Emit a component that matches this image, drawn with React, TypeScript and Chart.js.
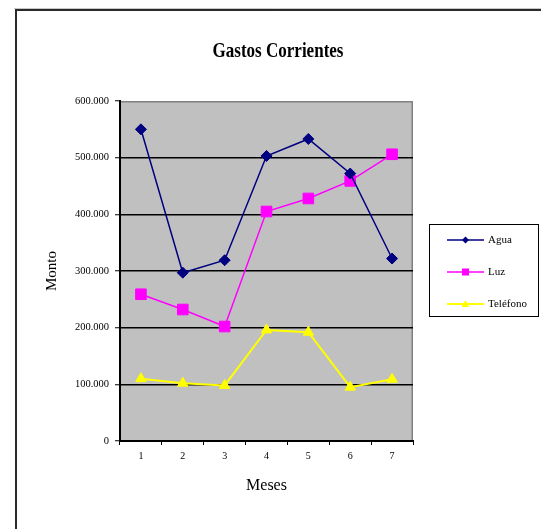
import React, { useEffect, useRef } from 'react';
import { Chart, registerables } from 'chart.js';

Chart.register(...registerables);

const categories = ['1', '2', '3', '4', '5', '6', '7'];
const agua = [550000, 297000, 319000, 503000, 533000, 472000, 322000];
const luz = [259000, 232000, 202000, 405000, 428000, 459000, 506000];
const telefono = [110000, 102000, 98000, 196000, 192000, 95000, 109000];
const seriesNames = ['Agua', 'Luz', 'Teléfono'];
const chartTitle = 'Gastos Corrientes';
const xTitle = 'Meses';
const yTitle = 'Monto';
const yMin = 0;
const yMax = 600000;
const yStep = 100000;

const SERIF = "'Liberation Serif', 'Times New Roman', serif";

function fmt(v: number): string {
  return Math.round(v).toString().replace(/\B(?=(\d{3})+(?!\d))/g, '.');
}

function drawMarker(ctx: CanvasRenderingContext2D, style: string, x: number, y: number, r: number, color: string) {
  ctx.save();
  ctx.fillStyle = color;
  ctx.strokeStyle = color;
  ctx.beginPath();
  if (style === 'rectRot') {
    ctx.moveTo(x, y - r);
    ctx.lineTo(x + r, y);
    ctx.lineTo(x, y + r);
    ctx.lineTo(x - r, y);
  } else if (style === 'rect') {
    ctx.rect(x - r, y - r, 2 * r, 2 * r);
  } else {
    ctx.moveTo(x, y - r);
    ctx.lineTo(x + r * 0.95, y + r * 0.75);
    ctx.lineTo(x - r * 0.95, y + r * 0.75);
  }
  ctx.closePath();
  ctx.fill();
  ctx.restore();
}

const framePlugin = {
  id: 'framePlugin',
  beforeDraw(chart: any) {
    const { ctx, chartArea } = chart;
    ctx.save();
    // outer frame
    ctx.strokeStyle = '#c8c8c8';
    ctx.lineWidth = 1;
    ctx.beginPath();
    ctx.moveTo(14, 8.5);
    ctx.lineTo(541, 8.5);
    ctx.stroke();
    ctx.strokeStyle = '#2a2a2a';
    ctx.lineWidth = 2;
    ctx.beginPath();
    ctx.moveTo(16, 540);
    ctx.lineTo(16, 10);
    ctx.lineTo(541, 10);
    ctx.stroke();
    // plot background
    ctx.fillStyle = '#c0c0c0';
    ctx.fillRect(chartArea.left, chartArea.top, chartArea.right - chartArea.left, chartArea.bottom - chartArea.top);
    ctx.strokeStyle = '#808080';
    ctx.lineWidth = 1.5;
    ctx.beginPath();
    ctx.moveTo(chartArea.left, chartArea.top + 0.75);
    ctx.lineTo(chartArea.right - 0.75, chartArea.top + 0.75);
    ctx.lineTo(chartArea.right - 0.75, chartArea.bottom);
    ctx.stroke();
    // title
    ctx.font = 'bold 21px ' + SERIF;
    ctx.fillStyle = '#000';
    ctx.textAlign = 'center';
    ctx.textBaseline = 'alphabetic';
    const w = ctx.measureText(chartTitle).width;
    const sx = 131 / w;
    ctx.translate(278, 57);
    ctx.scale(sx, 1);
    ctx.fillText(chartTitle, 0, 0);
    ctx.restore();
  },
  afterDraw(chart: any) {
    const { ctx } = chart;
    ctx.save();
    const bx = 429.5, by = 224.5, bw = 109, bh = 92;
    ctx.fillStyle = '#ffffff';
    ctx.fillRect(bx, by, bw, bh);
    ctx.strokeStyle = '#000';
    ctx.lineWidth = 1;
    ctx.strokeRect(bx, by, bw, bh);
    const ys = [240, 272, 304];
    const markerSizes = [3.5, 3.5, 4];
    chart.data.datasets.forEach((ds: any, i: number) => {
      const y = ys[i];
      ctx.strokeStyle = ds.borderColor;
      ctx.lineWidth = ds.borderWidth;
      ctx.beginPath();
      ctx.moveTo(447, y);
      ctx.lineTo(484, y);
      ctx.stroke();
      drawMarker(ctx, ds.pointStyle, 465.5, y, markerSizes[i], ds.pointBackgroundColor);
      ctx.fillStyle = '#000';
      ctx.font = '11px ' + SERIF;
      ctx.textAlign = 'left';
      ctx.textBaseline = 'middle';
      ctx.fillText(ds.label, 488, y + 0.5);
    });
    ctx.restore();
  },
};

export default function App() {
  const ref = useRef<HTMLCanvasElement>(null);
  useEffect(() => {
    if (!ref.current) return;
    const chart = new Chart(ref.current, {
      type: 'line',
      data: {
        labels: categories,
        datasets: [
          {
            label: seriesNames[0],
            data: agua,
            borderColor: '#000080',
            backgroundColor: '#000080',
            pointBackgroundColor: '#000080',
            pointBorderColor: '#000080',
            borderWidth: 1.5,
            pointStyle: 'rectRot',
            pointRadius: 5.5,
            pointBorderWidth: 1,
            tension: 0,
          },
          {
            label: seriesNames[1],
            data: luz,
            borderColor: '#ff00ff',
            backgroundColor: '#ff00ff',
            pointBackgroundColor: '#ff00ff',
            pointBorderColor: '#ff00ff',
            borderWidth: 1.5,
            pointStyle: 'rect',
            pointRadius: 7.5,
            pointBorderWidth: 1,
            tension: 0,
          },
          {
            label: seriesNames[2],
            data: telefono,
            borderColor: '#ffff00',
            backgroundColor: '#ffff00',
            pointBackgroundColor: '#ffff00',
            pointBorderColor: '#ffff00',
            borderWidth: 2,
            pointStyle: 'triangle',
            pointRadius: 6,
            pointBorderWidth: 1,
            tension: 0,
          },
        ],
      } as any,
      options: {
        animation: false,
        responsive: false,
        maintainAspectRatio: false,
        layout: { padding: { top: 101, right: 128, left: 40, bottom: 28 } },
        plugins: {
          legend: { display: false },
          title: { display: false },
          tooltip: { enabled: false },
        },
        scales: {
          x: {
            type: 'category',
            offset: true,
            afterFit: (s: any) => { s.height = 60; },
            grid: {
              offset: true,
              drawOnChartArea: false,
              drawTicks: true,
              tickLength: 4,
              tickColor: '#000',
              tickWidth: 1,
              color: '#000',
            },
            border: { display: true, color: '#000', width: 2 },
            ticks: {
              color: '#000',
              font: { family: SERIF, size: 10 },
              padding: 5,
              maxRotation: 0,
            },
            title: {
              display: true,
              text: xTitle,
              color: '#000',
              font: { family: SERIF, size: 16 },
              padding: { top: 0, bottom: 6 },
            },
          },
          y: {
            min: yMin,
            max: yMax,
            afterFit: (s: any) => { s.width = 80; },
            grid: {
              drawTicks: true,
              tickLength: 5,
              tickColor: '#000',
              tickWidth: 1,
              lineWidth: 1.5,
              color: (c: any) => {
                const v = c.tick ? c.tick.value : 0;
                return v > yMin && v < yMax ? '#000' : 'rgba(0,0,0,0)';
              },
            },
            border: { display: true, color: '#000', width: 2 },
            ticks: {
              stepSize: yStep,
              color: '#000',
              font: { family: SERIF, size: 10.5 },
              padding: 6,
              callback: (v: any) => fmt(Number(v)),
            },
            title: {
              display: true,
              text: yTitle,
              color: '#000',
              font: { family: SERIF, size: 15 },
              padding: { top: 3, bottom: 0 },
            },
          },
        },
      } as any,
      plugins: [framePlugin],
    });
    return () => chart.destroy();
  }, []);
  return (
    <div style={{ position: 'fixed', left: 0, top: 0, width: 541, height: 529, background: '#fff' }}>
      <canvas ref={ref} width={541} height={529} style={{ display: 'block' }} />
    </div>
  );
}
